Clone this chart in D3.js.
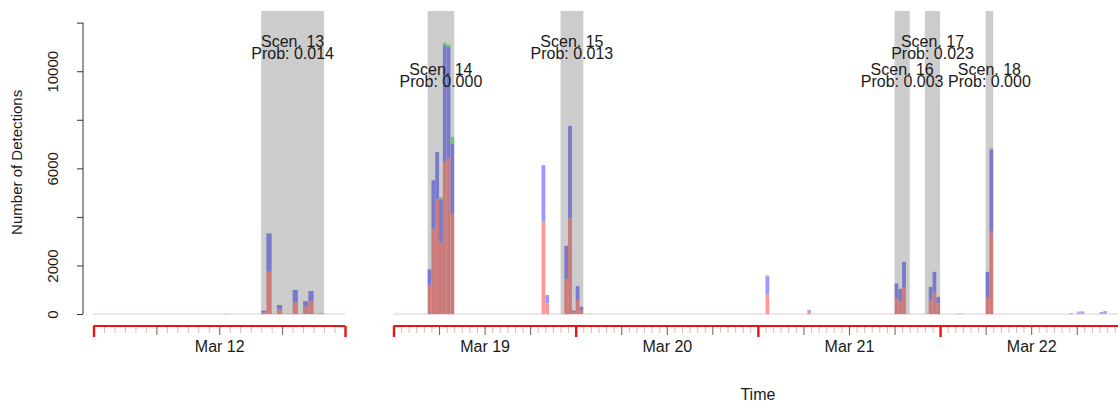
<!DOCTYPE html>
<html>
<head>
<meta charset="utf-8">
<script src="https://cdn.jsdelivr.net/npm/d3@7"></script>
<style>
  html, body { margin: 0; padding: 0; background: #fff; }
  svg { display: block; font-family: "Liberation Sans", Arial, sans-serif; }
</style>
</head>
<body>
<svg id="chart" width="1118" height="404"></svg>
<script>
// ---------------- DATA ----------------
// Panels (broken time axis)
const panelStarts = ["2020-03-12 00:00", "2020-03-19 00:00"];
const panelEnds   = ["2020-03-13 00:00", "2020-03-23 00:00"];

// 30-minute bins: start time, and stacked counts per series
const binStart = [
  "2020-03-12 12:30", "2020-03-12 16:00", "2020-03-12 16:30", "2020-03-12 17:30",
  "2020-03-12 19:00", "2020-03-12 20:00", "2020-03-12 20:30", "2020-03-12 21:30",
  "2020-03-19 04:30", "2020-03-19 05:00", "2020-03-19 05:30", "2020-03-19 06:00",
  "2020-03-19 06:30", "2020-03-19 07:00", "2020-03-19 07:30",
  "2020-03-19 19:30", "2020-03-19 20:00",
  "2020-03-19 22:30", "2020-03-19 23:00", "2020-03-19 23:30", "2020-03-20 00:00",
  "2020-03-20 00:30", "2020-03-20 01:30",
  "2020-03-21 01:00", "2020-03-21 06:30",
  "2020-03-21 18:00", "2020-03-21 18:30", "2020-03-21 19:00",
  "2020-03-21 22:30", "2020-03-21 23:00", "2020-03-21 23:30",
  "2020-03-22 02:00", "2020-03-22 02:30",
  "2020-03-22 06:00", "2020-03-22 06:30",
  "2020-03-22 17:00", "2020-03-22 18:00", "2020-03-22 18:30",
  "2020-03-22 21:00", "2020-03-22 21:30"
];
const redVals = [
  0, 70, 1740, 190, 480, 300, 510, 0,
  1190, 3490, 4730, 2920, 6270, 6430, 4140,
  3800, 440,
  1430, 3940, 80, 580, 160, 0,
  810, 90,
  650, 530, 1080,
  550, 880, 440,
  0, 0,
  670, 3390,
  40, 60, 50,
  40, 50
];
const blueVals = [
  0, 70, 1580, 180, 510, 230, 440, 0,
  650, 2020, 1950, 1810, 4800, 4570, 2860,
  2330, 340,
  1380, 3810, 60, 570, 140, 0,
  750, 70,
  610, 510, 1070,
  570, 860, 270,
  0, 0,
  1070, 3370,
  0, 40, 60,
  40, 70
];
const greenVals = [
  30, 0, 0, 0, 0, 0, 0, 30,
  0, 0, 0, 80, 110, 100, 300,
  0, 0,
  0, 0, 0, 0, 0, 30,
  40, 0,
  0, 0, 0,
  0, 0, 0,
  30, 30,
  0, 70,
  0, 0, 0,
  0, 0
];

// Scenario windows
const scenNames = ["Scen. 13", "Scen. 14", "Scen. 15", "Scen. 16", "Scen. 17", "Scen. 18"];
const scenProbs = ["Prob: 0.014", "Prob: 0.000", "Prob: 0.013", "Prob: 0.003", "Prob: 0.023", "Prob: 0.000"];
const scenStart = ["2020-03-12 16:00", "2020-03-19 04:30", "2020-03-19 22:00", "2020-03-21 18:00", "2020-03-21 22:00", "2020-03-22 06:00"];
const scenEnd   = ["2020-03-12 22:00", "2020-03-19 08:00", "2020-03-20 01:00", "2020-03-21 20:00", "2020-03-22 00:00", "2020-03-22 07:00"];

// Y axis
const yTicks = [0, 2000, 4000, 6000, 8000, 10000, 12000];
const yTickLabels = ["0", "2000", "", "6000", "", "10000", ""];
const yLimits = [0, 12000];

// Titles
const yTitle = "Number of Detections";
const xTitle = "Time";

// ---------------- DRAW ----------------
const parse = d3.utcParse("%Y-%m-%d %H:%M");
const svg = d3.select("#chart");

const colRed = "#ff9999", colBlue = "#9999ff", colGreen = "#99ee99";

// y scale with R-style 4% extension
const ext = (yLimits[1] - yLimits[0]) * 0.04;
const y = d3.scaleLinear().domain([yLimits[0] - ext, yLimits[1] + ext]).range([325.7, 11]);

const panelRanges = [[93.5, 345], [393.5, 1122.3]];
const panels = panelStarts.map((s, i) => ({
  x: d3.scaleUtc().domain([parse(s), parse(panelEnds[i])]).range(panelRanges[i])
}));
function panelOf(t) {
  return panels.find(p => t >= p.x.domain()[0] && t < p.x.domain()[1]);
}

// baselines
panels.forEach(p => {
  svg.append("line")
    .attr("x1", p.x.range()[0]).attr("x2", p.x.range()[1])
    .attr("y1", y(0)).attr("y2", y(0))
    .attr("stroke", "#ead6de").attr("stroke-width", 1.2);
});

// bars
const bars = binStart.map((s, i) => ({ t: parse(s), r: redVals[i], b: blueVals[i], g: greenVals[i] }));
const gBars = svg.append("g");
bars.forEach(d => {
  const p = panelOf(d.t);
  if (!p) return;
  const x0 = p.x(d.t), x1 = p.x(d3.utcMinute.offset(d.t, 30));
  const segs = [[0, d.r, colRed], [d.r, d.r + d.b, colBlue], [d.r + d.b, d.r + d.b + d.g, colGreen]];
  segs.forEach(([a, b, c]) => {
    if (b <= a) return;
    gBars.append("rect")
      .attr("x", x0).attr("width", x1 - x0)
      .attr("y", y(b)).attr("height", y(a) - y(b))
      .attr("fill", c);
  });
});

// scenario bands (translucent grey overlay)
const scen = scenNames.map((n, i) => ({ name: n, prob: scenProbs[i], s: parse(scenStart[i]), e: parse(scenEnd[i]), i }));
scen.forEach(d => {
  const p = panelOf(d.s);
  svg.append("rect")
    .attr("x", p.x(d.s)).attr("width", p.x(d.e) - p.x(d.s))
    .attr("y", y(y.domain()[1])).attr("height", y(0) - y(y.domain()[1]))
    .attr("fill", "rgba(0,0,0,0.2)");
});

// scenario labels
scen.forEach(d => {
  const p = panelOf(d.s);
  const cx = (p.x(d.s) + p.x(d.e)) / 2;
  const top = y(y.domain()[1]) + 36 + (d.i % 2) * 28;
  svg.append("text").attr("x", cx).attr("y", top).attr("text-anchor", "middle")
    .attr("font-size", 16).attr("fill", "#1a1a1a").text(d.name);
  svg.append("text").attr("x", cx).attr("y", top + 12).attr("text-anchor", "middle")
    .attr("font-size", 16).attr("fill", "#1a1a1a").text(d.prob);
});

// x axes
const axisY = 326;
panels.forEach(p => {
  const [d0, d1] = p.x.domain();
  const hours = d3.utcHour.range(d0, d3.utcHour.offset(d1, 1));
  const minor = hours.filter(h => h.getUTCHours() % 6 !== 0);
  const major = hours.filter(h => h.getUTCHours() % 6 === 0 && h.getUTCHours() !== 0);
  const midn  = hours.filter(h => h.getUTCHours() === 0);
  const noon  = hours.filter(h => h.getUTCHours() === 12);

  const gMinor = svg.append("g").attr("transform", `translate(0,${axisY})`)
    .call(d3.axisBottom(p.x).tickValues(minor).tickSize(7).tickFormat(""));
  gMinor.select(".domain").remove();
  gMinor.selectAll("line").attr("stroke", "#c4c4c4").attr("stroke-width", 1);

  const gMajor = svg.append("g").attr("transform", `translate(0,${axisY})`)
    .call(d3.axisBottom(p.x).tickValues(major).tickSize(9).tickFormat(""));
  gMajor.select(".domain").remove();
  gMajor.selectAll("line").attr("stroke", "#606060").attr("stroke-width", 1);

  // red axis line
  svg.append("line")
    .attr("x1", p.x.range()[0]).attr("x2", p.x.range()[1])
    .attr("y1", axisY).attr("y2", axisY)
    .attr("stroke", "#ee1111").attr("stroke-width", 2.2);

  const gMid = svg.append("g").attr("transform", `translate(0,${axisY})`)
    .call(d3.axisBottom(p.x).tickValues(midn).tickSize(11).tickFormat(""));
  gMid.select(".domain").remove();
  gMid.selectAll("line").attr("stroke", "#ee1111").attr("stroke-width", 2.4);

  const gLab = svg.append("g").attr("transform", `translate(0,${axisY})`)
    .call(d3.axisBottom(p.x).tickValues(noon).tickSize(0).tickPadding(15)
      .tickFormat(d3.utcFormat("%b %-d")));
  gLab.select(".domain").remove();
  gLab.selectAll("text").attr("font-size", 16).attr("fill", "#1a1a1a")
    .attr("font-family", "'Liberation Sans', Arial, sans-serif");
});

// y axis
const gy = svg.append("g").attr("transform", "translate(83,0)")
  .call(d3.axisLeft(y).tickValues(yTicks).tickSize(6).tickPadding(0)
    .tickFormat((d, i) => yTickLabels[i]));
gy.select(".domain").remove();
gy.selectAll("line").attr("stroke", "#333");
gy.selectAll("text")
  .attr("font-size", 15).attr("fill", "#1a1a1a")
  .attr("font-family", "'Liberation Sans', Arial, sans-serif")
  .attr("text-anchor", "middle").attr("dy", null).attr("x", null)
  .attr("transform", "translate(-25,0) rotate(-90)");
svg.append("line").attr("x1", 83).attr("x2", 83)
  .attr("y1", y(yLimits[0])).attr("y2", y(yLimits[1]))
  .attr("stroke", "#333").attr("stroke-width", 1);

// titles
svg.append("text")
  .attr("transform", `translate(22,${(y(y.domain()[0]) + y(y.domain()[1])) / 2 - 6}) rotate(-90)`)
  .attr("text-anchor", "middle").attr("font-size", 15).attr("fill", "#1a1a1a")
  .text(yTitle);
svg.append("text")
  .attr("x", (panelRanges[1][0] + panelRanges[1][1]) / 2).attr("y", 400)
  .attr("text-anchor", "middle").attr("font-size", 16).attr("fill", "#1a1a1a")
  .text(xTitle);
</script>
</body>
</html>
